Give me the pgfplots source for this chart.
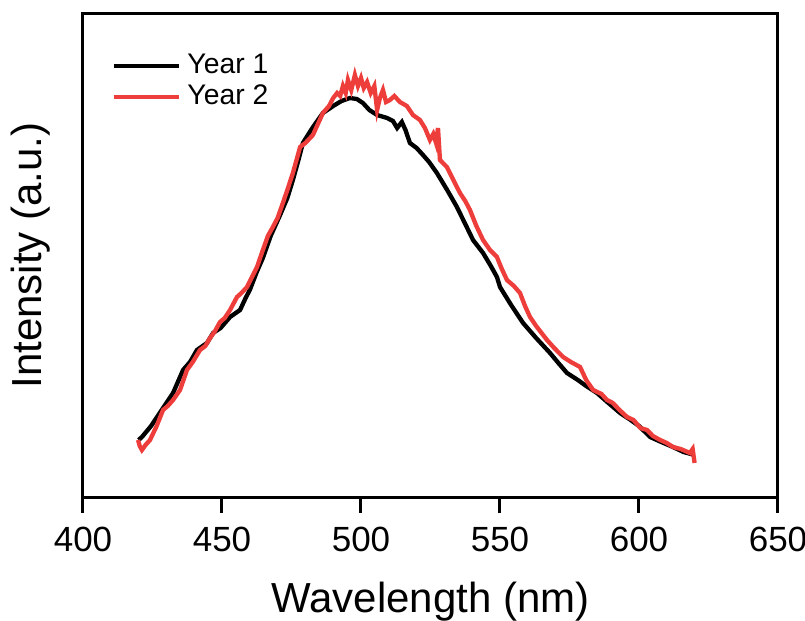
\documentclass[border=0pt]{standalone}
\usepackage{fontspec}
\setmainfont{Liberation Sans}
\usepackage{pgfplots}
\pgfplotsset{compat=1.18}
\definecolor{yeartwo}{RGB}{238,62,60}

\begin{document}
\begin{tikzpicture}
\begin{axis}[
  width=208.5pt, height=145.5pt,
  scale only axis,
  xmin=400, xmax=650, ymin=0, ymax=485,
  xtick={400,450,...,650},
  ytick=\empty,
  axis line style={line width=0.9pt},
  tick style={line width=0.9pt, black},
  xtick pos=bottom,
  tick align=outside,
  major tick length=4.5pt,
  /pgf/number format/assume math mode=true,
  /pgf/number format/1000 sep={},
  tick label style={font=\fontsize{10.5}{12}\selectfont},
  xticklabel style={yshift=-0.6pt},
  xlabel={Wavelength (nm)},
  ylabel={Intensity (a.u.)},
  label style={font=\fontsize{12.6}{14}\selectfont},
  xlabel style={yshift=-2.3pt},
  ylabel style={yshift=1.9pt},
  legend style={draw=none, fill=none, inner sep=0pt,
    font=\fontsize{8.5}{9.5}\selectfont,
    at={(rel axis cs:0.040,0.931)}, anchor=north west,
    row sep=-2.2pt},
  legend cell align=left,
  legend image code/.code={\draw[#1, line width=1.3pt] (0pt,0pt) -- (19.5pt,0pt);},
]
\addplot[black, line width=1.3pt] coordinates {
(420.0,58) (421.2,61) (424.5,72) (428.8,90) (432.4,105) (436.0,128) (438.5,136)
(441.0,148) (444.6,155) (446.8,165) (449.5,170) (452.9,181) (456.5,188)
(458.5,200) (460.0,208) (462.5,226) (464.7,240) (467.5,262) (470.9,283)
(473.5,300) (475.5,318) (477.5,338) (479.1,355) (482.5,370) (486.3,385)
(490.0,392) (493.0,397) (496.0,400) (498.5,399) (500.7,395) (503.0,388)
(505.8,383) (509.4,380) (511.5,377) (513.0,370) (514.7,376) (516.0,368)
(517.6,355) (520.0,350) (522.3,343) (524.5,336) (527.3,325) (531.0,308)
(534.5,291) (537.5,274) (540.3,258) (543.9,245) (546.5,233) (548.9,221)
(550.0,211) (554.0,193) (558.3,175) (563.0,160) (568.0,145) (571.0,135)
(574.1,125) (578.0,118) (581.0,112) (584.9,105) (589.0,95) (593.2,85)
(597.0,78) (600.0,72) (604.0,61) (608.0,56) (612.2,51) (616.0,46) (620.0,43)
};
\addplot[yeartwo, line width=1.3pt] coordinates {
(419.8,58) (420.4,52) (421.2,48) (422.5,53) (424.1,58) (426.5,72) (428.8,88)
(430.5,92) (432.4,98) (434.9,108) (437.4,128) (439.5,136) (442.1,148)
(444.0,152) (445.7,160) (447.5,167) (449.3,176) (451.0,180) (452.9,188)
(455.4,201) (457.0,205) (459.0,211) (462.6,231) (464.7,248) (466.5,262)
(468.3,271) (470.0,280) (471.9,295) (473.5,308) (475.5,325) (477.0,340)
(478.1,351) (480.0,355) (482.7,363) (484.5,374) (486.3,385) (488.5,392)
(490.0,400) (491.4,405) (492.5,402) (493.5,412) (494.5,405) (495.3,418)
(496.5,408) (497.8,423) (498.9,412) (500.0,420) (501.0,410) (502.2,416)
(503.5,405) (504.8,412) (505.8,388) (506.8,400) (507.9,408) (509.0,396)
(510.4,398) (512.0,402) (514.0,396) (516.5,392) (518.7,383) (521.2,378)
(523.0,370) (524.8,358) (526.0,364) (527.0,355) (527.7,370) (528.4,338)
(530.9,331) (532.5,322) (534.5,311) (535.6,305) (537.5,297) (539.2,288)
(541.5,272) (543.9,258) (546.4,248) (548.9,241) (550.5,230) (552.5,218)
(555.0,212) (557.2,205) (559.0,192) (560.8,181) (563.0,172) (566.9,158)
(569.5,150) (572.7,141) (575.5,136) (578.8,131) (581.0,118) (583.5,108)
(586.5,104) (588.5,98) (590.6,95) (593.0,88) (595.7,81) (598.0,78)
(600.5,70) (602.9,68) (605.0,62) (607.6,58) (610.0,55) (612.2,51)
(615.0,49) (618.3,45) (619.3,49) (620.0,35)
};
\legend{Year 1, Year 2}
\end{axis}
\pgfresetboundingbox
\path ([xshift=-24.9pt,yshift=3.9pt]current axis.north west)
  rectangle ([xshift=8.1pt,yshift=-36.9pt]current axis.south east);
\end{tikzpicture}
\end{document}
